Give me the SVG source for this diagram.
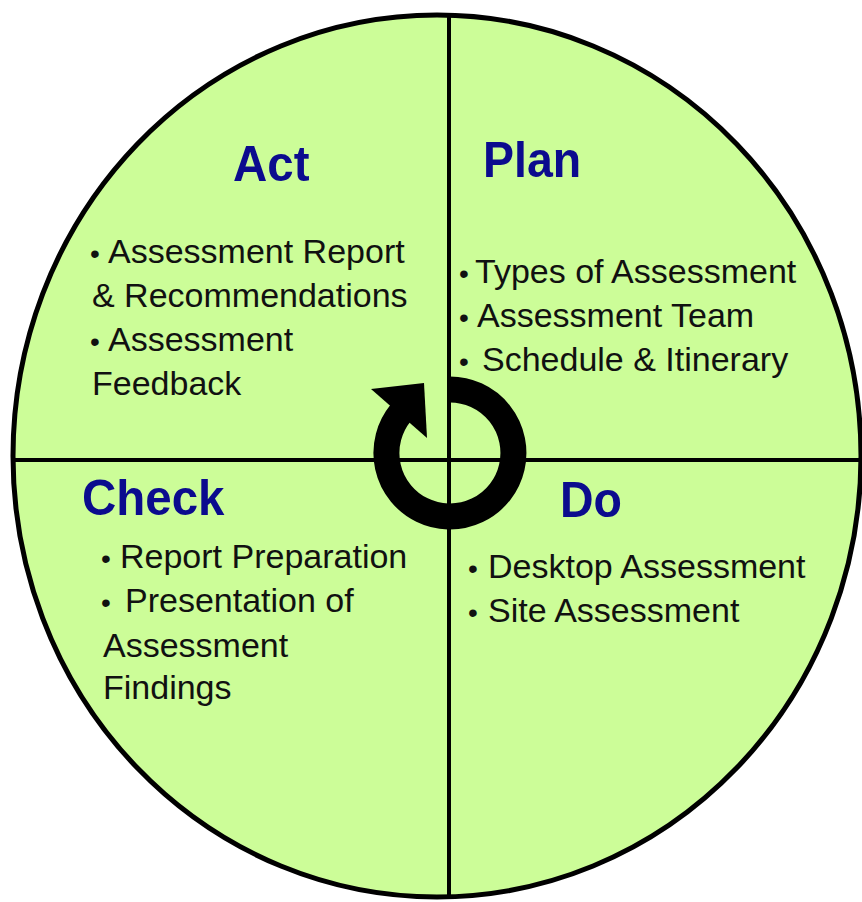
<svg xmlns="http://www.w3.org/2000/svg" width="862" height="902" viewBox="0 0 862 902">
<style>
.title{font-family:"Liberation Sans",Arial,sans-serif;font-weight:bold;font-size:50px;fill:#0b0b8e}
.body{font-family:"Liberation Sans",Arial,sans-serif;font-size:34px;fill:#111}
.bul{font-size:28px}
.div{stroke:#000;stroke-width:4;fill:none}
</style>
<rect width="862" height="902" fill="#fff"/>
<g id="circle">
<ellipse cx="437" cy="456" rx="424" ry="441" fill="#ccfd98" stroke="#000" stroke-width="5"/>
</g>
<g id="dividers">
<line class="div" x1="449" y1="15" x2="449" y2="897"/>
<line class="div" x1="13" y1="460" x2="861" y2="460"/>
</g>
<g id="connectors">
<path d="M450 389.5 A63.5 63.5 0 1 1 400.6 413" fill="none" stroke="#000" stroke-width="26"/>
<polygon points="371,389 424,383 427,438" fill="#000"/>
</g>
<g id="act">
<text class="title" transform="translate(233 181) scale(0.95 1)">Act</text>
<text class="body" y="263"><tspan class="bul" x="90">•</tspan><tspan x="108">Assessment Report</tspan></text>
<text class="body" x="92" y="307">&amp; Recommendations</text>
<text class="body" y="351"><tspan class="bul" x="90">•</tspan><tspan x="108">Assessment</tspan></text>
<text class="body" x="92" y="395">Feedback</text>
</g>
<g id="plan">
<text class="title" transform="translate(483 177) scale(0.93 1)">Plan</text>
<text class="body" y="283"><tspan class="bul" x="459">•</tspan><tspan x="475">Types of Assessment</tspan></text>
<text class="body" y="327"><tspan class="bul" x="459">•</tspan><tspan x="477">Assessment Team</tspan></text>
<text class="body" y="371"><tspan class="bul" x="459">•</tspan><tspan x="482">Schedule &amp; Itinerary</tspan></text>
</g>
<g id="check">
<text class="title" transform="translate(82 515) scale(0.95 1)">Check</text>
<text class="body" y="568"><tspan class="bul" x="101">•</tspan><tspan x="120">Report Preparation</tspan></text>
<text class="body" y="612"><tspan class="bul" x="101">•</tspan><tspan x="125">Presentation of</tspan></text>
<text class="body" x="103" y="657">Assessment</text>
<text class="body" x="103" y="699">Findings</text>
</g>
<g id="do">
<text class="title" transform="translate(560 517) scale(0.93 1)">Do</text>
<text class="body" y="578"><tspan class="bul" x="468">•</tspan><tspan x="488">Desktop Assessment</tspan></text>
<text class="body" y="622"><tspan class="bul" x="468">•</tspan><tspan x="488">Site Assessment</tspan></text>
</g>
</svg>
